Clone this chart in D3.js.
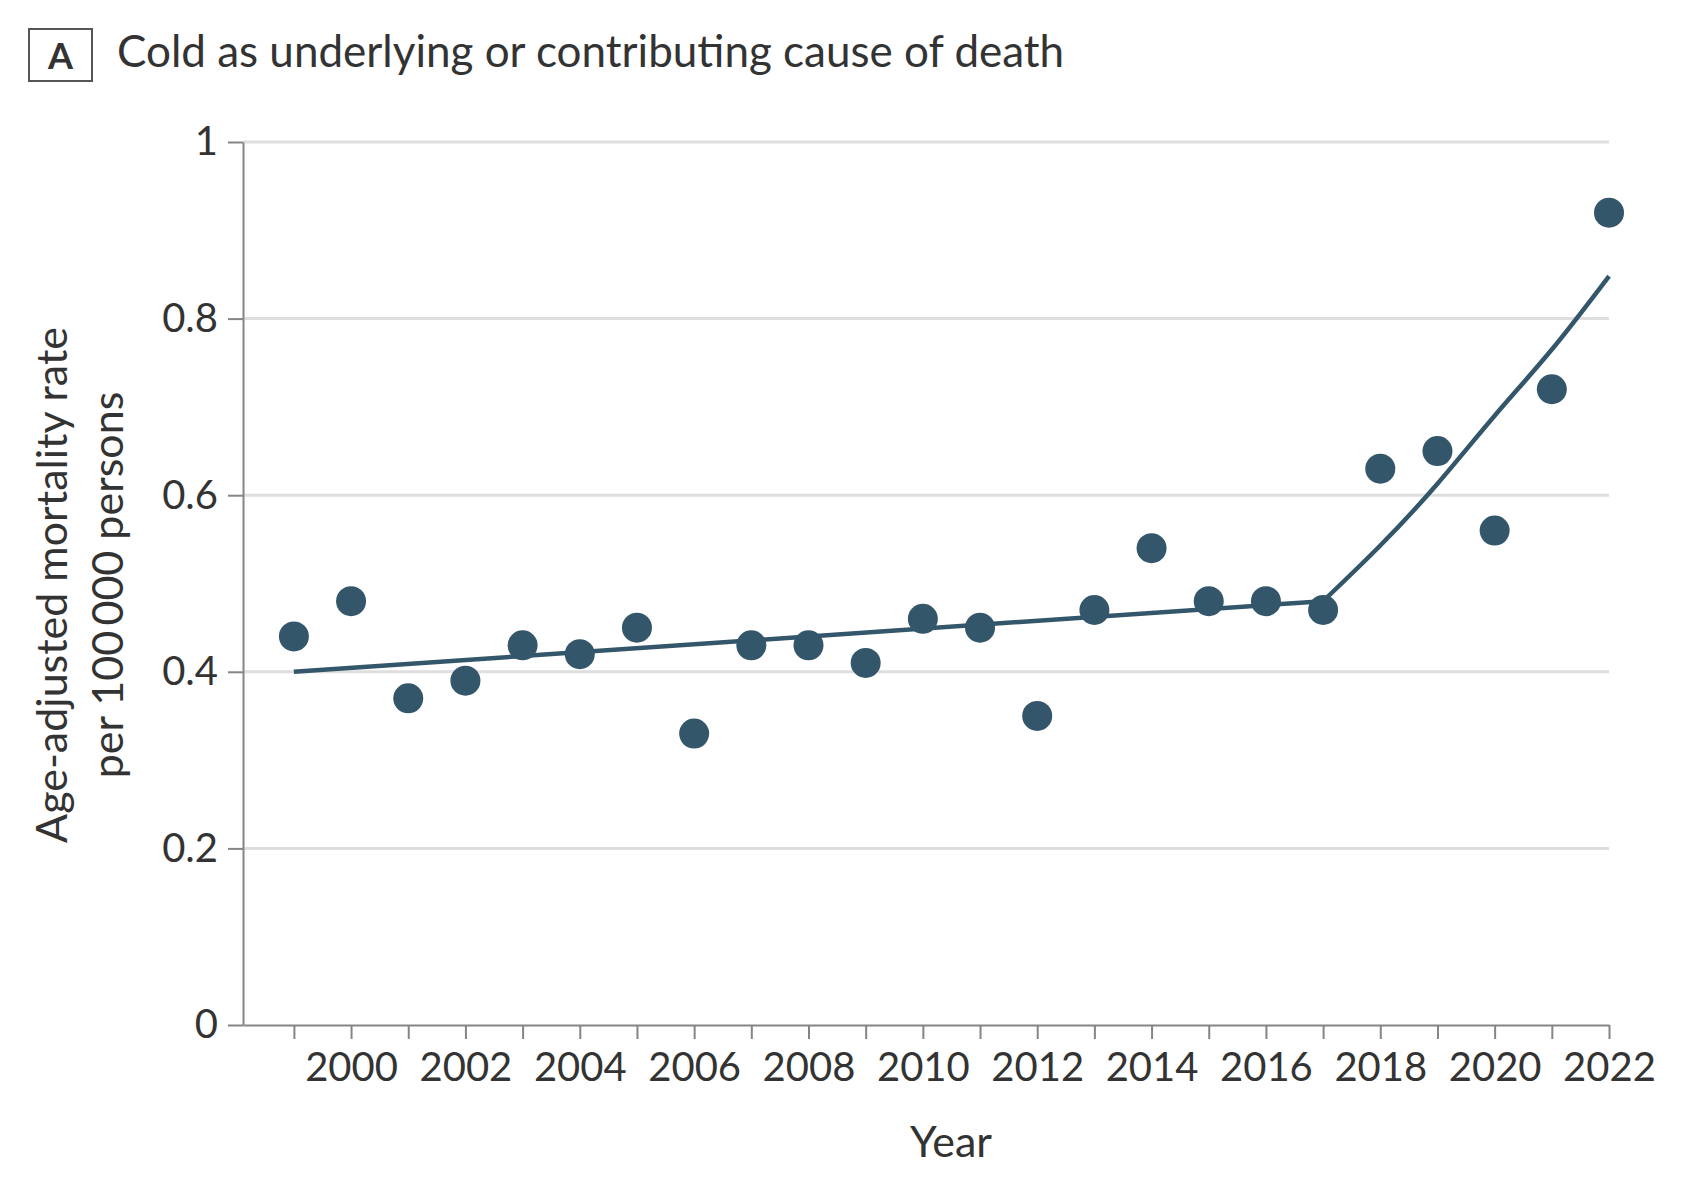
<!DOCTYPE html>
<html>
<head>
<meta charset="utf-8">
<script src="https://cdn.jsdelivr.net/npm/d3@7"></script>
<style>
    body { margin: 0; background: #fff; }
    svg text { font-family: Lato, "Noto Sans", sans-serif; fill: #333; }
    .axis path, .axis line { stroke: #858585; stroke-width: 2; }
    .axis text { font-size: 40px; fill: #333; }
    .grid line { stroke: #dedede; stroke-width: 3; }
</style>
</head>
<body>
<script>
// observed yearly rates
const years = [1999, 2000, 2001, 2002, 2003, 2004, 2005, 2006, 2007, 2008, 2009, 2010,
    2011, 2012, 2013, 2014, 2015, 2016, 2017, 2018, 2019, 2020, 2021, 2022]
const rates = [0.44, 0.48, 0.37, 0.39, 0.43, 0.42, 0.45, 0.33, 0.43, 0.43, 0.41, 0.46,
    0.45, 0.35, 0.47, 0.54, 0.48, 0.48, 0.47, 0.63, 0.65, 0.56, 0.72, 0.92]

// fitted joinpoint trend, two segments (knot at 2017)
const trendYears1 = [1999, 2017]
const trendRates1 = [0.40, 0.48]
const trendYears2 = [2017, 2018, 2019, 2020, 2021, 2022]
const trendRates2 = [0.48, 0.543, 0.613, 0.69, 0.765, 0.848]

const yTicks = [0, 0.2, 0.4, 0.6, 0.8, 1]

const WIDTH = 1700
const HEIGHT = 1190

const PLOT = {
    left: 243,
    right: 1609,
    top: 142,
    bottom: 1025
}

const svg = d3.select("body")
    .append("svg")
    .attr("width", WIDTH)
    .attr("height", HEIGHT)

// panel letter + title
svg.append("rect")
    .attr("x", 29)
    .attr("y", 29)
    .attr("width", 63)
    .attr("height", 52)
    .attr("fill", "none")
    .attr("stroke", "#555")
    .attr("stroke-width", 2)

svg.append("text")
    .attr("x", 60.5)
    .attr("y", 69)
    .attr("text-anchor", "middle")
    .style("font-size", "36px")
    .style("font-weight", "bold")
    .text("A")

svg.append("text")
    .attr("x", 117)
    .attr("y", 67)
    .style("font-size", "44px")
    .text("Cold as underlying or contributing cause of death")

const xScale = d3.scaleLinear()
    .domain([1998.11, 2022])
    .range([PLOT.left, PLOT.right])

const yScale = d3.scaleLinear()
    .domain([0, 1])
    .range([PLOT.bottom, PLOT.top])

// gridlines
svg.append("g")
    .attr("class", "grid")
    .selectAll("line")
    .data(yTicks.filter(d => d > 0))
    .enter()
    .append("line")
    .attr("x1", PLOT.left)
    .attr("x2", xScale(2022))
    .attr("y1", d => yScale(d))
    .attr("y2", d => yScale(d))

const xAxis = d3.axisBottom(xScale)
    .tickValues(years)
    .tickSize(14)
    .tickSizeOuter(0)
    .tickPadding(14)
    .tickFormat(d => d % 2 === 0 ? d : "")

const yAxis = d3.axisLeft(yScale)
    .tickValues(yTicks)
    .tickSize(15)
    .tickSizeOuter(0)
    .tickPadding(10)
    .tickFormat(d => (d === 0 || d === 1) ? d : d.toFixed(1))

svg.append("g")
    .attr("class", "axis")
    .attr("transform", "translate(0, " + PLOT.bottom + ")")
    .call(xAxis)

svg.append("g")
    .attr("class", "axis")
    .attr("transform", "translate(" + PLOT.left + ", 0)")
    .call(yAxis)

// axis titles
svg.append("text")
    .attr("x", 951)
    .attr("y", 1157)
    .attr("text-anchor", "middle")
    .style("font-size", "43px")
    .text("Year")

const yLabel = svg.append("text")
    .attr("transform", "translate(67, 585) rotate(-90)")
    .attr("text-anchor", "middle")
    .style("font-size", "43px")

yLabel.append("tspan")
    .attr("x", 0)
    .attr("y", 0)
    .text("Age-adjusted mortality rate")

yLabel.append("tspan")
    .attr("x", 0)
    .attr("y", 56)
    .text("per 100\u2009000 persons")

// trend line
const line1 = d3.line()
    .x((d, i) => xScale(trendYears1[i]))
    .y(d => yScale(d))

const line2 = d3.line()
    .x((d, i) => xScale(trendYears2[i]))
    .y(d => yScale(d))
    .curve(d3.curveNatural)

svg.append("path")
    .datum(trendRates1)
    .attr("d", line1)
    .attr("fill", "none")
    .attr("stroke", "#33566a")
    .attr("stroke-width", 4.5)

svg.append("path")
    .datum(trendRates2)
    .attr("d", line2)
    .attr("fill", "none")
    .attr("stroke", "#33566a")
    .attr("stroke-width", 4.5)
    .attr("stroke-linejoin", "round")

// points
svg.selectAll("circle")
    .data(rates)
    .enter()
    .append("circle")
    .attr("cx", (d, i) => xScale(years[i]))
    .attr("cy", d => yScale(d))
    .attr("r", 15)
    .attr("fill", "#33566a")
</script>
</body>
</html>
